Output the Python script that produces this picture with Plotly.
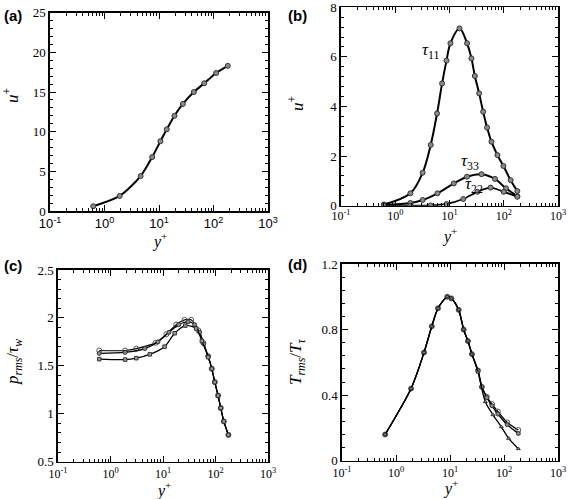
import math
import plotly.graph_objects as go

# ---------------- data ----------------
# (a) mean velocity u+ vs y+
a_yplus = [0.62, 1.9, 4.6, 7.5, 10.6, 13.9, 19.2, 27.4, 43.6, 67.6, 112, 183]
a_uplus = [0.6, 1.9, 4.4, 6.8, 8.8, 10.3, 12.0, 13.5, 15.0, 16.1, 17.4, 18.3]

# (b) Reynolds stresses
b11_yplus = [0.62, 1.9, 3.2, 4.5, 5.9, 7.3, 8.8, 10.4, 15.3, 21.1, 25.4, 29.3, 35.2,
             41.7, 49.3, 59.3, 76.4, 98.6, 134, 178]
b11_tau = [0.05, 0.5, 1.33, 2.45, 3.72, 4.93, 5.85, 6.55, 7.15, 6.55, 5.94, 5.23, 4.53,
           3.79, 3.15, 2.58, 2.04, 1.60, 1.03, 0.59]
b33_yplus = [0.62, 1.9, 3.2, 6.0, 12, 21, 39, 69, 110, 178]
b33_tau = [0.03, 0.11, 0.23, 0.5, 0.9, 1.17, 1.27, 1.08, 0.7, 0.38]
b22_yplus = [0.62, 1.9, 4.5, 8.8, 17.9, 32.6, 57.2, 100, 178]
b22_tau = [0.0, 0.0, 0.01, 0.07, 0.27, 0.56, 0.73, 0.56, 0.36]

# (c) pressure fluctuations, three cases
c1_yplus = [0.61, 1.9, 3.1, 7.2, 11.6, 17.8, 25.7, 34.3, 47.1, 58.5, 72.5, 85, 97, 112, 126, 144, 176]
c1_p = [1.66, 1.66, 1.68, 1.74, 1.83, 1.93, 1.98, 1.98, 1.87, 1.74, 1.60, 1.47, 1.33, 1.19, 1.06, 0.92, 0.78]
c2_yplus = [0.61, 1.9, 4.5, 8.0, 13, 20, 30, 40, 50, 60, 72.5, 85, 97, 112, 126, 144, 176]
c2_p = [1.63, 1.64, 1.68, 1.75, 1.85, 1.93, 1.96, 1.93, 1.85, 1.73, 1.60, 1.47, 1.33, 1.19, 1.06, 0.92, 0.78]
c3_yplus = [0.61, 1.9, 3.1, 5.6, 10.7, 16.7, 26.6, 42.7, 55, 72.5, 85, 97, 112, 126, 144, 176]
c3_p = [1.57, 1.565, 1.58, 1.62, 1.70, 1.84, 1.92, 1.89, 1.76, 1.59, 1.47, 1.33, 1.19, 1.06, 0.92, 0.78]

# (d) temperature fluctuations, three cases
d1_yplus = [0.63, 1.9, 3.3, 4.6, 6.0, 8.9, 10.6, 14.5, 17.9, 21.5, 25.5, 33, 39, 48, 60, 77, 115, 184]
d1_T = [0.16, 0.44, 0.66, 0.82, 0.93, 1.0, 0.99, 0.92, 0.80, 0.73, 0.65, 0.55, 0.45, 0.39, 0.345, 0.30, 0.233, 0.187]
d2_yplus = [0.63, 1.9, 3.3, 4.6, 6.0, 8.9, 10.6, 14.5, 17.9, 21.5, 25.5, 33, 39, 48, 60, 77, 115, 184]
d2_T = [0.16, 0.44, 0.66, 0.82, 0.93, 1.0, 0.99, 0.92, 0.80, 0.73, 0.65, 0.55, 0.45, 0.385, 0.335, 0.285, 0.22, 0.166]
d3_yplus = [0.63, 1.9, 3.3, 4.6, 6.0, 8.9, 10.6, 14.5, 17.9, 21.5, 25.5, 33, 45, 62.5, 89, 122, 184]
d3_T = [0.16, 0.44, 0.66, 0.82, 0.93, 1.0, 0.99, 0.92, 0.80, 0.73, 0.65, 0.54, 0.36, 0.28, 0.207, 0.136, 0.073]

# tick labels
x_tickvals = [0.1, 1, 10, 100, 1000]
x_ticktext = ["10<sup>-1</sup>", "10<sup>0</sup>", "10<sup>1</sup>", "10<sup>2</sup>", "10<sup>3</sup>"]
a_yticks = [0, 5, 10, 15, 20, 25]
b_yticks = [0, 2, 4, 6, 8]
c_yticks = [0.5, 1, 1.5, 2, 2.5]
c_yticktext = ["0.5", "1", "1.5", "2", "2.5"]
d_yticks = [0, 0.4, 0.8, 1.2]
d_yticktext = ["0", "0.4", "0.8", "1.2"]

# ---------------- figure ----------------
W, H = 568, 499
SERIF = "Liberation Serif"
SANS = "Liberation Sans"

fig = go.Figure()

def dom_x(l, r):
    return [l / W, r / W]

def dom_y(t, b):
    return [1 - b / H, 1 - t / H]

minor_x = [m * 10 ** k for k in range(-1, 3) for m in range(2, 10)]

def add_line(x, y, xa, ya, width=2.0, symbol="circle", size=5, fill="#8a8a8a", smoothing=0.8):
    fig.add_trace(go.Scatter(
        x=x, y=y, xaxis=xa, yaxis=ya, mode="lines+markers",
        line=dict(color="black", width=width, shape="spline", smoothing=smoothing),
        marker=dict(symbol=symbol, size=size, color=fill,
                    line=dict(color="#333333", width=1)),
        showlegend=False, hoverinfo="skip"))

add_line(a_yplus, a_uplus, "x", "y", width=2.0)
add_line(b11_yplus, b11_tau, "x2", "y2", width=2.0, smoothing=1.0)
add_line(b33_yplus, b33_tau, "x2", "y2", width=2.0)
add_line(b22_yplus, b22_tau, "x2", "y2", width=1.8)
add_line(c1_yplus, c1_p, "x3", "y3", width=1.2, symbol="circle-open", size=5, fill="#555555")
add_line(c2_yplus, c2_p, "x3", "y3", width=1.2, size=4)
add_line(c3_yplus, c3_p, "x3", "y3", width=1.2, symbol="square", size=3.5, fill="#999999")
add_line(d1_yplus, d1_T, "x4", "y4", width=1.3, symbol="circle-open", size=5, fill="#555555")
add_line(d2_yplus, d2_T, "x4", "y4", width=1.3, size=4)
add_line(d3_yplus, d3_T, "x4", "y4", width=1.3, symbol="triangle-up", size=3.5, fill="#999999")

def xaxis(domain, anchor, family=SERIF, size=12, standoff=0):
    return dict(
        domain=domain, anchor=anchor, type="log", range=[-1, 3],
        tickmode="array", tickvals=x_tickvals, ticktext=x_ticktext,
        ticks="inside", ticklen=6, tickwidth=1, tickcolor="black",
        ticklabelstandoff=standoff, ticklabeloverflow="allow",
        minor=dict(tickmode="array", tickvals=minor_x, ticks="inside",
                   ticklen=3, tickwidth=1, tickcolor="black", showgrid=False),
        showline=True, linecolor="black", linewidth=1.6, mirror="allticks",
        showgrid=False, zeroline=False,
        tickfont=dict(family=family, size=size, color="black"),
        automargin=False)

def yaxis(domain, anchor, rng, tickvals, ticktext, minor_dtick):
    return dict(
        domain=domain, anchor=anchor, range=rng,
        tickmode="array", tickvals=tickvals, ticktext=ticktext,
        ticks="inside", ticklen=6, tickwidth=1, tickcolor="black",
        ticklabeloverflow="allow",
        minor=dict(dtick=minor_dtick, tick0=rng[0], ticks="inside",
                   ticklen=3, tickwidth=1, tickcolor="black", showgrid=False),
        showline=True, linecolor="black", linewidth=1.6, mirror="allticks",
        showgrid=False, zeroline=False,
        tickfont=dict(family=SERIF, size=13, color="black"),
        automargin=False)

fig.update_layout(
    width=W, height=H,
    margin=dict(l=0, r=0, t=0, b=0),
    paper_bgcolor="white", plot_bgcolor="white",
    xaxis=xaxis(dom_x(50, 268), "y", family=SANS, size=13),
    yaxis=yaxis(dom_y(12.7, 211), "x", [0, 25], a_yticks, [str(v) for v in a_yticks], 1),
    xaxis2=xaxis(dom_x(341, 558), "y2", standoff=-2),
    yaxis2=yaxis(dom_y(7.3, 205.7), "x2", [0, 8], b_yticks, [str(v) for v in b_yticks], 0.4),
    xaxis3=xaxis(dom_x(58, 268), "y3"),
    yaxis3=yaxis(dom_y(270, 461.7), "x3", [0.5, 2.5], c_yticks, c_yticktext, 0.1),
    xaxis4=xaxis(dom_x(342, 558), "y4"),
    yaxis4=yaxis(dom_y(264, 460.7), "x4", [0, 1.2], d_yticks, d_yticktext, 0.08),
)

def label(text, px, py, size, angle=0, family=SERIF):
    fig.add_annotation(text=text, x=px / W, y=1 - py / H, xref="paper", yref="paper",
                       showarrow=False, xanchor="center", yanchor="middle", textangle=angle,
                       font=dict(family=family, size=size, color="black"))

# x-axis titles (y+)
for px, py in [(159, 240), (449, 235), (163, 489), (450, 487)]:
    label("<i>y</i><sup>+</sup>", px, py, 16)

# y-axis titles
label("<i>u</i><sup>+</sup>", 11, 95, 17, -90)
label("<i>u</i><sup>+</sup>", 296, 103, 17, -90)
label("<i>p</i><sub><i>rms</i></sub>/<i>τ</i><sub><i>w</i></sub>", 14, 362, 17, -90)
label("<i>T</i><sub><i>rms</i></sub>/<i>T</i><sub><i>τ</i></sub>", 297, 362, 17, -90)

# panel labels
for txt, px, py in [("(a)", 13, 15), ("(b)", 297, 15), ("(c)", 13, 265), ("(d)", 297, 264)]:
    label("<b>%s</b>" % txt, px, py, 15, family=SANS)

# curve labels in (b)
for txt, xv, yv in [("<i>τ</i><sub>11</sub>", 4.6, 6.25), ("<i>τ</i><sub>33</sub>", 23.8, 1.78),
                    ("<i>τ</i><sub>22</sub>", 28.2, 0.85)]:
    fig.add_annotation(text=txt, x=math.log10(xv), y=yv, xref="x2", yref="y2",
                       showarrow=False, xanchor="center", yanchor="middle",
                       font=dict(family=SERIF, size=17, color="black"))

fig.write_html("out.html",
               config={"displayModeBar": False, "staticPlot": True},
               post_script="document.body.style.margin='0px';document.body.style.overflow='hidden';")
